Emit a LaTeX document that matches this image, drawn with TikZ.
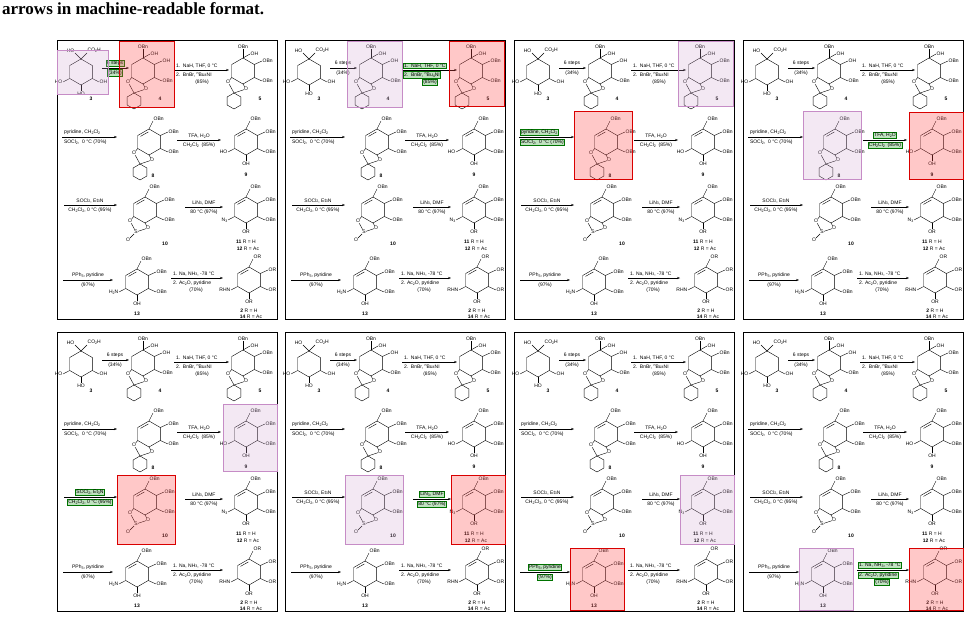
\documentclass[tikz,border=0pt]{standalone}
\usepackage{fontspec}
\setmainfont{Liberation Serif}
\newfontfamily\chemf{Liberation Sans}
\usetikzlibrary{arrows.meta,calc}
\newcommand\sbs[1]{\raisebox{-.35ex}{\fontsize{3.6}{4}\selectfont #1}}
\newcommand\sps[1]{\raisebox{.6ex}{\fontsize{3.6}{4}\selectfont #1}}
\tikzset{
 lb/.style={font=\chemf\fontsize{5}{6}\selectfont,inner sep=0.5pt},
 rt/.style={font=\chemf\fontsize{5}{6}\selectfont,inner sep=0.8pt},
 cl/.style={font=\chemf\bfseries\fontsize{5}{6}\selectfont,inner sep=0.5pt},
 arr/.style={-{Stealth[length=3pt,width=2.2pt]},line width=0.4pt},
 bd/.style={line width=0.4pt},
 greenbox/.style={draw=green!45!black,fill=green!55!black,fill opacity=0.25,text opacity=1,line width=0.6pt},
 purplebox/.style={draw=violet!45,fill=violet!35,fill opacity=0.25,line width=0.7pt},
 redbox/.style={draw=red!85!black,fill=red!70,fill opacity=0.3,line width=0.8pt},
 rg1/.style={},rg2/.style={},rg3/.style={},rg4/.style={},rg5/.style={},rg6/.style={},rg7/.style={},rg8/.style={}
}
\newcommand\hexa{\coordinate (h1) at (0,-13);\coordinate (h2) at (11.3,-6.5);\coordinate (h3) at (11.3,6.5);
 \coordinate (h4) at (0,13);\coordinate (h5) at (-11.3,6.5);\coordinate (h6) at (-11.3,-6.5);
 \draw[bd] (h1)--(h2)--(h3)--(h4)--(h5)--(h6)--cycle;}
\newcommand\dbl{\draw[bd] (-0.6,-10.1)--(-8.5,-5.6);}
\newcommand\subs[4]{\draw[bd] (#1)--#2 node[lb,anchor=#4]{#3};}
\newcommand\acet{\coordinate (o1) at (-15,11);\coordinate (o2) at (3,18);\coordinate (sp) at (-9,22);
 \draw[bd] (h5)--(o1)--(sp)--(o2)--(h4);
 \begin{scope}[shift={(-9,30)}]\draw[bd] (0,-8)--(6.9,-4)--(6.9,4)--(0,8)--(-6.9,4)--(-6.9,-4)--cycle;\end{scope}
 \node[lb,fill=white] at (o1){O};\node[lb,fill=white] at (o2){O};}
\newcommand\sulf{\coordinate (o1) at (-15,11);\coordinate (o2) at (3,18);\coordinate (sp) at (-9,22);
 \draw[bd] (h5)--(o1)--(sp)--(o2)--(h4);\draw[bd] (sp)--(-15,28);
 \node[lb,fill=white] at (o1){O};\node[lb,fill=white] at (o2){O};\node[lb,fill=white] at (sp){S};\node[lb] at (-17,30){O};}
\newcommand\topside{\subs{h1}{(4,-21)}{OBn}{south west}\dbl\subs{h2}{(19,-10)}{OBn}{west}\subs{h3}{(19,10)}{OBn}{west}}
\newcommand\boxcoords[1]{\ifcase#1\or
 \def\bx{0}\def\by{10}\def\bX{51}\def\bY{54}\or
 \def\bx{62}\def\by{1}\def\bX{117}\def\bY{67}\or
 \def\bx{164}\def\by{1}\def\bX{219}\def\bY{66}\or
 \def\bx{60}\def\by{71}\def\bX{118}\def\bY{139}\or
 \def\bx{166}\def\by{72}\def\bX{220}\def\bY{139}\or
 \def\bx{60}\def\by{143}\def\bX{118}\def\bY{212}\or
 \def\bx{166}\def\by{143}\def\bX{220}\def\bY{212}\or
 \def\bx{56}\def\by{216}\def\bX{110}\def\bY{278}\or
 \def\bx{166}\def\by{216}\def\bX{220}\def\bY{278}\fi}
\newcommand\panel[3]{\begin{scope}[shift={(#2,#3)}]
 \tikzset{rg#1/.style={greenbox}}
 \draw[line width=0.6pt] (0,0) rectangle (220,279);
 % 3
 \begin{scope}[shift={(24,32)}]\hexa
  \subs{h1}{(-6,-19)}{HO}{south east}\subs{h1}{(6,-19)}{CO\sbs{2}H}{south west}
  \subs{h3}{(18,10)}{OH}{west}\subs{h5}{(-18,10)}{HO}{east}\subs{h4}{(0,19)}{HO}{north}
  \node[cl] at (10,27){3};\end{scope}
 % 4
 \begin{scope}[shift={(86,31)}]\hexa
  \subs{h1}{(0,-22)}{OBn}{south}\subs{h1}{(7,-17)}{OH}{west}\subs{h2}{(19,-10)}{OH}{west}\subs{h3}{(19,10)}{OBn}{west}\acet
  \node[cl] at (17,28){4};\end{scope}
 % 5
 \begin{scope}[shift={(186,31)}]\hexa
  \subs{h1}{(0,-22)}{OBn}{south}\subs{h1}{(7,-17)}{OH}{west}\subs{h2}{(19,-10)}{OBn}{west}\subs{h3}{(19,10)}{OBn}{west}\acet
  \node[cl] at (17,28){5};\end{scope}
 % 8
 \begin{scope}[shift={(92,102)}]\hexa\topside\acet\node[cl] at (4,34){8};\end{scope}
 % 9
 \begin{scope}[shift={(189,102)}]\hexa\topside\subs{h5}{(-18,10)}{HO}{east}\subs{h4}{(0,19)}{OH}{north}\node[cl] at (0,33){9};\end{scope}
 % 10
 \begin{scope}[shift={(88,170)}]\hexa\topside\sulf\node[cl] at (20,34){10};\end{scope}
 % 11
 \begin{scope}[shift={(189,170)}]\hexa\topside\subs{h5}{(-18,10)}{N\sbs{3}}{east}\subs{h4}{(0,19)}{OR}{north}
  \node[lb] at (0,32){\textbf{11} R = H};\node[lb] at (2,39){\textbf{12} R = Ac};\end{scope}
 % 13
 \begin{scope}[shift={(80,242)}]\hexa\topside\subs{h5}{(-18,10)}{H\sbs{2}N}{east}\subs{h4}{(0,19)}{OH}{north}\node[cl] at (0,32){13};\end{scope}
 % 2
 \begin{scope}[shift={(192,240)}]\hexa\subs{h1}{(4,-21)}{OR}{south west}\dbl\subs{h2}{(19,-10)}{OR}{west}\subs{h3}{(19,10)}{OR}{west}
  \subs{h5}{(-18,10)}{RHN}{east}\subs{h4}{(0,19)}{OR}{north}
  \node[lb] at (0,31){\textbf{2} R = H};\node[lb] at (2,37){\textbf{14} R = Ac};\end{scope}
 % arrows
 \coordinate (a1s) at (45,28);\coordinate (a1e) at (72,28);\draw[arr] (a1s)--(a1e);
 \node[rt,rg1,anchor=south] at (58,27){6 steps};\node[rt,rg1,anchor=north] at (58,29.5){(34\%)};
 \coordinate (a2s) at (117,30);\coordinate (a2e) at (172,30);\draw[arr] (a2s)--(a2e);
 \node[rt,rg2,anchor=south west] at (118,29){1.\ \ NaH, THF, 0 °C};\node[rt,rg2,anchor=north west] at (118,31.5){2.\ \ BnBr, \sps{n}Bu\sbs{4}NI};
 \node[rt,rg2,anchor=north] at (145,39){(85\%)};
 \coordinate (a3s) at (5,97);\coordinate (a3e) at (60,97);\draw[arr] (a3s)--(a3e);
 \node[rt,rg3,anchor=south west] at (6,96){pyridine, CH\sbs{2}Cl\sbs{2}};\node[rt,rg3,anchor=north west] at (6,99){SOCl\sbs{2}, \ 0 °C (70\%)};
 \coordinate (a4s) at (120,100);\coordinate (a4e) at (164,100);\draw[arr] (a4s)--(a4e);
 \node[rt,rg4,anchor=south] at (142,99){TFA, H\sbs{2}O};\node[rt,rg4,anchor=north] at (142,102){CH\sbs{2}Cl\sbs{2} \ (85\%)};
 \coordinate (a5s) at (7,165);\coordinate (a5e) at (60,165);\draw[arr] (a5s)--(a5e);
 \node[rt,rg5,anchor=south] at (33,164){SOCl\sbs{2}, Et\sbs{3}N};\node[rt,rg5,anchor=north] at (33,167){CH\sbs{2}Cl\sbs{2}, 0 °C (95\%)};
 \coordinate (a6s) at (128,167);\coordinate (a6e) at (166,167);\draw[arr] (a6s)--(a6e);
 \node[rt,rg6,anchor=south] at (147,166){LiN\sbs{3}, DMF};\node[rt,rg6,anchor=north] at (147,169){80 °C (97\%)};
 \coordinate (a7s) at (6,240);\coordinate (a7e) at (56,240);\draw[arr] (a7s)--(a7e);
 \node[rt,rg7,anchor=south] at (31,239){PPh\sbs{3}, pyridine};\node[rt,rg7,anchor=north] at (31,242){(97\%)};
 \coordinate (a8s) at (114,238);\coordinate (a8e) at (166,238);\draw[arr] (a8s)--(a8e);
 \node[rt,rg8,anchor=south west] at (115,237){1. Na, NH\sbs{3}, -78 °C};\node[rt,rg8,anchor=north west] at (115,240){2. Ac\sbs{2}O, pyridine};
 \node[rt,rg8,anchor=north] at (139,247){(70\%)};
 % highlight boxes
 \boxcoords{#1}\draw[purplebox] (\bx,\by) rectangle (\bX,\bY);
 \boxcoords{\numexpr#1+1\relax}\draw[redbox] (\bx,\by) rectangle (\bX,\bY);
\end{scope}}
\begin{document}
\begin{tikzpicture}[x=1pt,y=-1pt]
\useasboundingbox[fill=white] (0,0) rectangle (970,618);
\node[anchor=west,font=\bfseries\fontsize{17}{19}\selectfont,inner sep=0] (title) at (2,9){arrows in machine-readable format.};
\panel{1}{57}{40}\panel{2}{285}{40}\panel{3}{514}{40}\panel{4}{743}{40}
\panel{5}{57}{332}\panel{6}{285}{332}\panel{7}{514}{332}\panel{8}{743}{332}
\end{tikzpicture}
\end{document}
